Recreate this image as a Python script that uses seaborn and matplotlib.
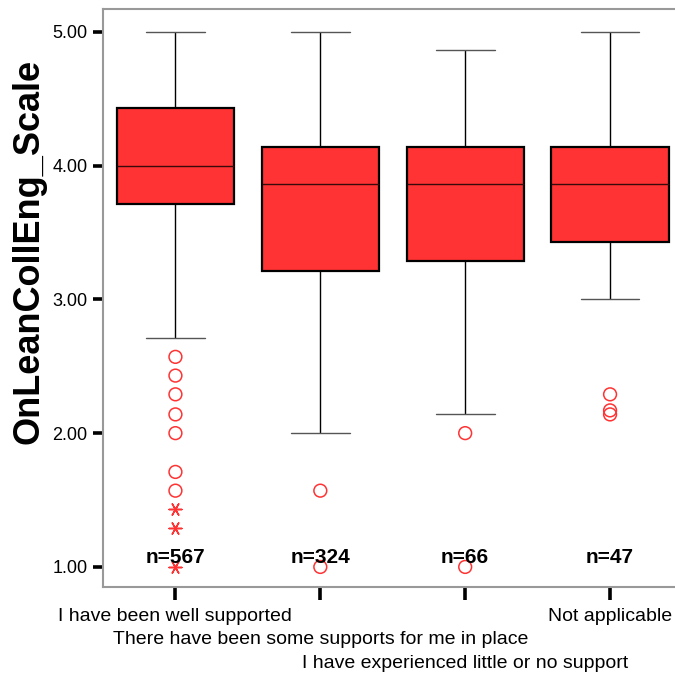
import numpy as np
import pandas as pd
import matplotlib
matplotlib.use("Agg")
import matplotlib.pyplot as plt
import seaborn as sns

categories = ["I have been well supported",
              "There have been some supports for me in place",
              "I have experienced little or no support",
              "Not applicable"]
label_rows = [0, 1, 2, 0]
counts = [567, 324, 66, 47]
whisker_low = [2.71, 2.00, 2.14, 3.00]
q1 = [3.71, 3.21, 3.29, 3.43]
median = [4.00, 3.86, 3.86, 3.86]
q3 = [4.43, 4.14, 4.14, 4.14]
whisker_high = [5.00, 5.00, 4.86, 5.00]
outliers = [[2.57, 2.43, 2.29, 2.14, 2.00, 1.71, 1.57],
            [1.57, 1.00],
            [2.00, 1.00],
            [2.29, 2.17, 2.14]]
extremes = [[1.43, 1.29, 1.00], [], [], []]
yticks = [1.0, 2.0, 3.0, 4.0, 5.0]
ylabel = "OnLeanCollEng_Scale"

RED = "#FF3333"

sns.set_style("white")
plt.rcParams["font.family"] = ["Liberation Sans", "DejaVu Sans"]
plt.rcParams["text.color"] = "black"
plt.rcParams["axes.labelcolor"] = "black"
plt.rcParams["xtick.color"] = "black"
plt.rcParams["ytick.color"] = "black"

# summary rows so the box statistics equal the values
rows = []
for i, cat in enumerate(categories):
    for v in [whisker_low[i], q1[i], q1[i], median[i], q3[i], q3[i], whisker_high[i]]:
        rows.append({"group": cat, "value": v})
df = pd.DataFrame(rows)

out_rows = [{"pos": categories.index(c), "value": v}
            for c, vals in zip(categories, outliers) for v in vals]
ext_rows = [{"pos": categories.index(c), "value": v}
            for c, vals in zip(categories, extremes) for v in vals]
df_out = pd.DataFrame(out_rows)
df_ext = pd.DataFrame(ext_rows)

fig = plt.figure(figsize=(6.75, 6.73), dpi=100)
ax = fig.add_axes([103 / 675, 86 / 673, 579.5 / 675, 578 / 673])

sns.boxplot(data=df, x="group", y="value", order=categories, ax=ax,
            color=RED, saturation=1, width=0.81, showfliers=False,
            whis=1.5,
            boxprops=dict(edgecolor="black", linewidth=1.6),
            medianprops=dict(color="#3a0a0a", linewidth=1.0),
            whiskerprops=dict(color="black", linewidth=1.0),
            capprops=dict(color="#555555", linewidth=1.0))

sns.scatterplot(data=df_out, x="pos", y="value", ax=ax, marker="o",
                s=85, facecolors="none", edgecolor=RED, linewidth=1.1,
                zorder=5)
if len(df_ext):
    sns.scatterplot(data=df_ext, x="pos", y="value", ax=ax,
                    marker=(6, 2, 90), s=85, color=RED, linewidth=1.1,
                    zorder=5)

for i, n in enumerate(counts):
    ax.text(i, 1.07, f"n={n}", ha="center", va="center",
            fontsize=15, fontweight="bold", color="black", zorder=6)

ax.set_xlim(-0.5, 3.5)
ax.set_ylim(0.85, 5.17)
ax.set_yticks(yticks)
ax.set_yticklabels([f"{t:.2f}" for t in yticks], fontsize=13, color="black")
ax.set_xticks(range(len(categories)))
ax.set_xticklabels(categories, fontsize=14, color="black")

ax.tick_params(axis="x", direction="out", length=9, width=2.6, pad=6,
               color="black", bottom=True)
ax.tick_params(axis="y", direction="out", length=7, width=2.6, pad=4,
               color="black", left=True)

# staggered label rows (about 23.5 px per row)
for tick, r in zip(ax.xaxis.get_major_ticks(), label_rows):
    tick.set_pad(6 + r * 17.0)

for s in ax.spines.values():
    s.set_color("#999999")
    s.set_linewidth(1.5)

ax.set_xlabel("")
ax.set_ylabel(ylabel, fontsize=26, fontweight="bold", color="black")
ax.yaxis.set_label_coords(-0.097, 0.58)

fig.savefig("out.png", dpi=100)
